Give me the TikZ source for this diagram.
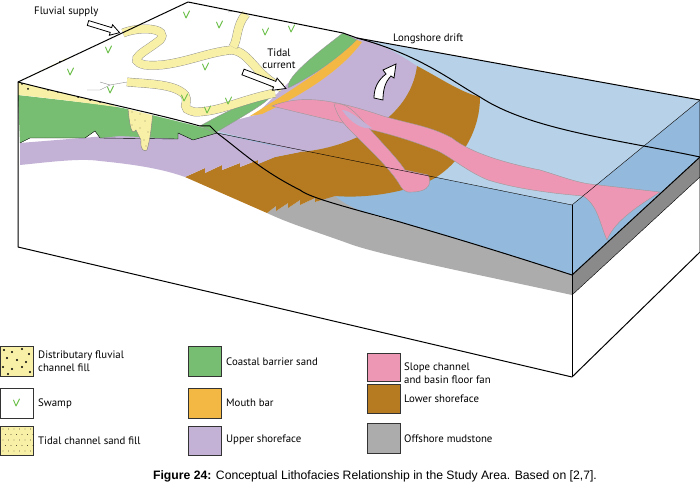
\documentclass[tikz,border=0pt]{standalone}
\usepackage{fontspec}
\setmainfont{PT Sans}
\newfontfamily\capfont{Liberation Sans}
\definecolor{gsand}{HTML}{77BD72}
\definecolor{mbar}{HTML}{F3B843}
\definecolor{ushore}{HTML}{C4B2D6}
\definecolor{lshore}{HTML}{B67A20}
\definecolor{pinkc}{HTML}{EE97B4}
\definecolor{mud}{HTML}{ACACAC}
\definecolor{wtop}{HTML}{B7D1E8}
\definecolor{wfront}{HTML}{93BADD}
\definecolor{ysand}{HTML}{F8F0A6}
\definecolor{swampg}{HTML}{6CC04A}
\tikzset{
  edge/.style={line width=1pt, line join=round},
  thin/.style={line width=0.4pt},
  chan/.style={draw=black!45, line width=0.4pt, double=ysand, double distance=8pt},
  lbox/.style={draw=black!80, line width=0.8pt},
  ltext/.style={anchor=west, font=\fontsize{10.8}{13}\selectfont, align=left, inner sep=0pt},
  swamptick/.pic={\draw[swampg, line width=0.9pt, line cap=round, line join=round] (-2.5,-3)--(0,3)--(3.5,-4);},
}
\begin{document}
\begin{tikzpicture}[x=1pt,y=-1pt]
\useasboundingbox (0,0) rectangle (700,489);
% front face
\path[fill=white] (18,82) -- (18,247) -- (572,377) -- (572,205) -- (217,133) -- cycle;
% right face
\fill[white] (572,205) -- (700,100) -- (700,252) -- (572,377) -- cycle;
\fill[wfront] (572,205) -- (700,100) -- (700,157) -- (572,275) -- cycle;
\fill[mud!80!black] (572,275) -- (700,157) -- (700,177) -- (572,295) -- cycle;
% water top surface
\fill[wtop] (357,38) -- (700,100) -- (572,205) -- (217,133) -- cycle;
% front water
\fill[wfront] (217,133) -- (572,205) -- (572,275) .. controls (480,245) and (420,228) .. (400,222) .. controls (350,208) and (310,198) .. (300,190) .. controls (260,170) and (240,150) .. (217,133) -- cycle;
% grey mudstone front
\fill[mud] (267,213) -- (276,206) -- (276,211) -- (288,203) -- (288,208) -- (300,200) -- (300,205) -- (315,198) -- (315,202) -- (335,196)
  .. controls (350,210) and (380,218) .. (400,222) .. controls (420,228) and (480,245) .. (572,275) -- (572,295)
  .. controls (480,275) and (380,255) .. (350,244) .. controls (320,233) and (290,224) .. (267,213) -- cycle;
% upper shoreface on top
\fill[ushore] (205,128) -- (300,152) .. controls (350,148) and (410,120) .. (417,66) .. controls (400,55) and (380,42) .. (357,38) -- (343,33) -- cycle;
% lower shoreface
\fill[lshore] (185,177) -- (205,168) -- (205,173) -- (222,165) -- (222,170) -- (240,163) -- (240,167) -- (258,160) -- (258,164) -- (275,157) -- (300,152)
  .. controls (350,148) and (410,120) .. (417,66) .. controls (440,78) and (460,92) .. (480,97)
  .. controls (480,140) and (450,175) .. (420,185) .. controls (390,195) and (360,198) .. (335,196)
  -- (315,202) -- (315,198) -- (300,205) -- (300,200) -- (288,208) -- (288,203) -- (276,211) -- (276,206) -- (267,213) -- cycle;
% upper shoreface front
\fill[ushore] (20,143) -- (20,165) .. controls (50,162) and (80,158) .. (100,161) .. controls (130,164) and (160,168) .. (185,177)
  -- (205,168) -- (205,173) -- (222,165) -- (222,170) -- (240,163) -- (240,167) -- (258,160) -- (258,164) -- (275,157) -- (300,152) -- (217,133) -- (205,128) -- cycle;
% green front
\fill[gsand] (18,95) .. controls (60,100) and (100,104) .. (117,107) .. controls (150,113) and (180,120) .. (200,126) -- (217,133)
  -- (193,140) -- (178,133) -- (178,139) -- (120,136) -- (100,138) -- (95,131) -- (85,138) -- (30,138) -- (20,143) -- cycle;
\draw[thin] (20,143) -- (30,138) -- (85,138) -- (95,131) -- (100,138) -- (178,139) -- (178,133) -- (193,140) -- (217,133);
% dotted strip and triangle
\fill[ysand] (18,82) -- (67,58) -- (55,70) -- (117,107) .. controls (80,102) and (40,97) .. (18,95) -- cycle;
\foreach \p in {(22,84),(30,80),(40,74),(50,69),(60,62),(28,89),(38,86),(48,90),(58,92),(68,94),(78,97),(90,100),(100,102),(110,104),(45,80)}
  \fill \p circle (1pt);
% tidal channel sand fill (front)
\fill[ysand, draw=black!50, thin] (128,108) -- (153,108) .. controls (152,125) and (150,140) .. (147,150) .. controls (144,152) and (140,150) .. (141,140) -- (136,130) .. controls (132,135) and (130,130) .. (128,108) -- cycle;
\foreach \p in {(132,112),(140,114),(148,113),(135,120),(145,121),(140,128),(148,132),(144,140),(146,146),(132,125)}
  \fill \p circle (0.4pt);
% land top
\fill[white] (18,82) -- (188,2) -- (343,33) -- (288,83) -- (255,115) -- (205,128) -- cycle;
% green shore strips
\fill[gsand, draw=black!40, thin] (343,33) -- (357,40) .. controls (335,62) and (305,80) .. (288,88) .. controls (287,78) and (305,62) .. (343,33) -- cycle;
\fill[gsand, draw=black!40, thin] (200,126) .. controls (225,112) and (250,100) .. (270,96) .. controls (272,100) and (240,118) .. (215,133) -- cycle;
% mouth bar
\fill[mbar] (357,40) .. controls (335,62) and (300,85) .. (250,116) -- (262,114) .. controls (300,96) and (340,72) .. (362,42) -- cycle;
% pink channels
\fill[pinkc, draw=black!40, thin] (272,106) .. controls (300,95) and (330,98) .. (383,116) .. controls (410,124) and (430,126) .. (452,138)
  .. controls (472,154) and (510,164) .. (540,170) .. controls (560,176) and (575,182) .. (590,184) -- (660,192)
  .. controls (640,205) and (615,220) .. (607,240) .. controls (600,225) and (598,205) .. (583,196)
  .. controls (560,194) and (520,190) .. (488,180) .. controls (468,172) and (452,158) .. (438,151)
  .. controls (410,140) and (390,134) .. (360,127) .. controls (330,120) and (300,113) .. (272,106) -- cycle;
\fill[pinkc, draw=black!40, thin] (334,104) .. controls (345,102) and (354,110) .. (367,126) .. controls (382,143) and (397,158) .. (405,170)
  -- (428,175) .. controls (432,182) and (430,192) .. (412,192) .. controls (403,193) and (402,188) .. (398,182)
  .. controls (388,167) and (372,152) .. (358,138) .. controls (348,128) and (338,120) .. (334,104) -- cycle;
\fill[ushore] (342,110) .. controls (350,110) and (360,120) .. (372,128) .. controls (362,130) and (350,122) .. (342,110) -- cycle;
% yellow channels
\draw[chan] (123,33) .. controls (140,26) and (170,28) .. (160,40) .. controls (145,52) and (125,60) .. (145,65)
  .. controls (175,68) and (205,52) .. (232,50) .. controls (250,52) and (255,75) .. (282,88);
\draw[chan] (233,47) .. controls (238,40) and (236,25) .. (246,14);
\draw[black!45, thin] (246,14) .. controls (240,12) and (235,10) .. (228,12);
\draw[chan] (127,82) .. controls (150,84) and (175,84) .. (185,95) .. controls (190,105) and (178,108) .. (195,112)
  .. controls (220,112) and (240,100) .. (275,93);
\draw[black!45, thin] (127,82) -- (110,85) -- (100,90) -- (87,90);
\draw[black!45, thin] (110,85) -- (100,82);
% swamp ticks
\foreach \p in {(186,15),(219,25),(265,32),(291,29),(108,50),(70,72),(205,67),(110,90),(207,110),(228,101),(184,98)}
  \pic at \p {swamptick};
% thin lines
\draw[thin] (217,133) -- (572,205) -- (700,100);
\draw[thin] (572,205) -- (572,275);
% outlines
\draw[edge] (18,247) -- (18,82) -- (188,2) -- (343,33) -- (357,38) .. controls (420,55) and (450,80) .. (480,97)
  .. controls (530,130) and (620,140) .. (700,157);
\draw[edge] (357,38) -- (700,100) -- (700,252) -- (572,377) -- (18,247);
\draw[edge] (572,275) -- (572,377);
\draw[edge] (572,275) -- (700,157);
\draw[thin] (572,295) -- (700,177);
\draw[edge] (18,82) .. controls (80,98) and (150,112) .. (200,126) -- (210,126) -- (217,133) .. controls (240,150) and (260,170) .. (300,190)
  .. controls (310,198) and (350,208) .. (400,222) .. controls (420,228) and (480,245) .. (572,275);
% arrows
\draw[fill=white, line width=0.8pt] [rotate around={-17:(88,23)}] (88,20.5) -- (112,20.5) -- (112,17.5) -- (121,23) -- (112,28.5) -- (112,25.5) -- (88,25.5) -- cycle;
\draw[fill=white, line width=0.8pt] [rotate around={-21:(243,72)}] (243,69) -- (277,69) -- (277,65.5) -- (289,72) -- (277,78.5) -- (277,75) -- (243,75) -- cycle;
\draw[fill=white, line width=0.8pt] (374,98) .. controls (374,88) and (378,80) .. (386,74) -- (383,70) -- (396,64) -- (394,78) -- (391,76) .. controls (385,82) and (383,90) .. (383,100) -- cycle;
% labels
\node[ltext] (fs) at (34,12) {Fluvial supply};
\node[font=\fontsize{10.8}{12}\selectfont, align=center, inner sep=0pt] (tc) at (279,59) {Tidal\\current};
\node[ltext] (ld) at (393,39) {Longshore drift};
% legend
\draw[lbox, fill=ysand] (0,346) rectangle (33,376);
\foreach \p in {(4,350),(12,352),(22,349),(29,354),(7,358),(17,360),(26,362),(3,367),(12,369),(22,367),(30,372),(8,374)}
  \fill \p circle (1.1pt);
\draw[lbox, fill=white] (0,388) rectangle (33,418);
\pic at (16,403) {swamptick};
\draw[lbox, fill=ysand] (0,426) rectangle (33,455);
\foreach \i in {0,...,5} \foreach \j in {0,...,4}
  \fill ({3+5.5*\i+mod(\j,2)*2.5},{429+5.5*\j}) circle (0.4pt);
\draw[lbox, fill=gsand] (188,346) rectangle (221,376);
\draw[lbox, fill=mbar] (188,388) rectangle (221,418);
\draw[lbox, fill=ushore] (188,426) rectangle (221,455);
\draw[lbox, fill=pinkc] (367,353) rectangle (400,381);
\draw[lbox, fill=lshore] (367,384) rectangle (400,413);
\draw[lbox, fill=mud] (367,423) rectangle (400,453);
\node[ltext] (t1) at (38,361) {Distributary fluvial\\channel fill};
\node[ltext] (t2) at (38,404) {Swamp};
\node[ltext] (t3) at (38,441) {Tidal channel sand fill};
\node[ltext] (t4) at (226,362) {Coastal barrier sand};
\node[ltext] (t5) at (226,403) {Mouth bar};
\node[ltext] (t6) at (226,440) {Upper shoreface};
\node[ltext] (t7) at (404,373) {Slope channel\\and basin floor fan};
\node[ltext] (t8) at (404,399) {Lower shoreface};
\node[ltext] (t9) at (404,439) {Offshore mudstone};
\node[font=\capfont\fontsize{12.2}{14}\selectfont, inner sep=0pt] (cap) at (375,476) {\textbf{Figure 24:} Conceptual Lithofacies Relationship in the Study Area. Based on [2,7].};
\end{tikzpicture}
\end{document}
